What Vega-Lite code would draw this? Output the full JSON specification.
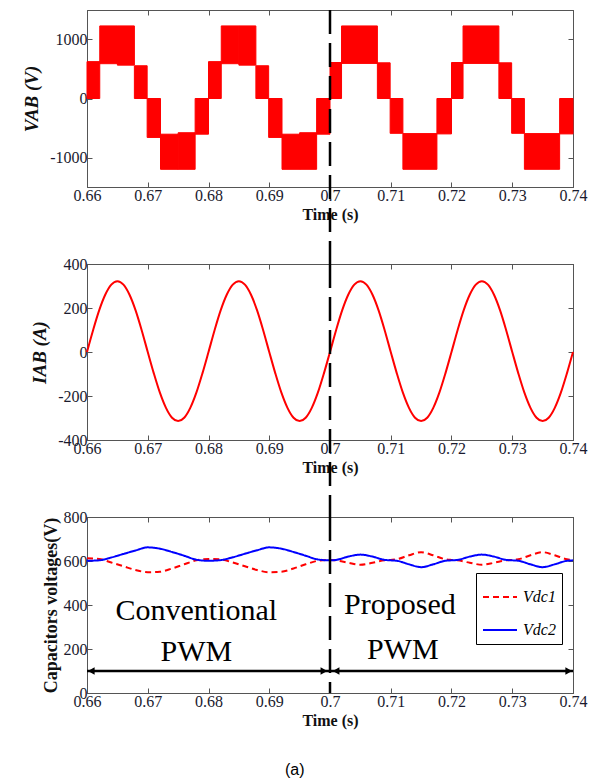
{
  "$schema": "https://vega.github.io/schema/vega-lite/v6.json",
  "padding": {"left": 22, "top": 8, "right": 5, "bottom": 2},
  "bounds": "flush",
  "spacing": 77,
  "config": {
    "view": {"stroke": "#555", "strokeWidth": 1},
    "axis": {"grid": false, "domainColor": "#555", "tickColor": "#555", "tickSize": -5, "labelFont": "Liberation Serif", "labelFontSize": 16, "labelColor": "#1a1a2e", "titleFont": "Liberation Serif", "titleColor": "#111", "titleFontWeight": "bold"},
    "legend": {"strokeColor": "black", "fillColor": "white", "padding": 6, "symbolType": "stroke", "symbolSize": 1156, "symbolStrokeWidth": 2, "labelFont": "Liberation Serif", "labelFontStyle": "italic", "labelFontSize": 16, "rowPadding": 7, "labelOffset": 5}
  },
  "datasets": {
    "vab": [
      {"t0": 0.66, "t1": 0.6621, "lo": 0, "hi": 625},
      {"t0": 0.6621, "t1": 0.665, "lo": 590, "hi": 1230},
      {"t0": 0.665, "t1": 0.6678, "lo": 565, "hi": 1230},
      {"t0": 0.6678, "t1": 0.6699, "lo": 0, "hi": 555},
      {"t0": 0.6699, "t1": 0.6721, "lo": -660, "hi": 0},
      {"t0": 0.6721, "t1": 0.675, "lo": -1200, "hi": -605},
      {"t0": 0.675, "t1": 0.6778, "lo": -1200, "hi": -580},
      {"t0": 0.6778, "t1": 0.68, "lo": -605, "hi": 0},
      {"t0": 0.68, "t1": 0.6821, "lo": 0, "hi": 625},
      {"t0": 0.6821, "t1": 0.685, "lo": 590, "hi": 1230},
      {"t0": 0.685, "t1": 0.6878, "lo": 565, "hi": 1230},
      {"t0": 0.6878, "t1": 0.6899, "lo": 0, "hi": 555},
      {"t0": 0.6899, "t1": 0.6921, "lo": -660, "hi": 0},
      {"t0": 0.6921, "t1": 0.695, "lo": -1200, "hi": -605},
      {"t0": 0.695, "t1": 0.6978, "lo": -1200, "hi": -580},
      {"t0": 0.6978, "t1": 0.7, "lo": -605, "hi": 0},
      {"t0": 0.7, "t1": 0.7019, "lo": 0, "hi": 610},
      {"t0": 0.7019, "t1": 0.7078, "lo": 595, "hi": 1230},
      {"t0": 0.7078, "t1": 0.7099, "lo": 0, "hi": 605},
      {"t0": 0.7099, "t1": 0.712, "lo": -590, "hi": 0},
      {"t0": 0.712, "t1": 0.7176, "lo": -1200, "hi": -595},
      {"t0": 0.7176, "t1": 0.72, "lo": -600, "hi": 0},
      {"t0": 0.72, "t1": 0.7219, "lo": 0, "hi": 610},
      {"t0": 0.7219, "t1": 0.7278, "lo": 595, "hi": 1230},
      {"t0": 0.7278, "t1": 0.7299, "lo": 0, "hi": 605},
      {"t0": 0.7299, "t1": 0.732, "lo": -590, "hi": 0},
      {"t0": 0.732, "t1": 0.7378, "lo": -1200, "hi": -595},
      {"t0": 0.7378, "t1": 0.74, "lo": -600, "hi": 0}
    ],
    "iab": [
      {"t": 0.66, "i": 0}, {"t": 0.661, "i": 99}, {"t": 0.662, "i": 189}, {"t": 0.663, "i": 260}, {"t": 0.664, "i": 306},
      {"t": 0.665, "i": 322}, {"t": 0.666, "i": 306}, {"t": 0.667, "i": 260}, {"t": 0.668, "i": 189}, {"t": 0.669, "i": 99},
      {"t": 0.67, "i": 0}, {"t": 0.671, "i": -97}, {"t": 0.672, "i": -185}, {"t": 0.673, "i": -254}, {"t": 0.674, "i": -299},
      {"t": 0.675, "i": -314}, {"t": 0.676, "i": -299}, {"t": 0.677, "i": -254}, {"t": 0.678, "i": -185}, {"t": 0.679, "i": -97},
      {"t": 0.68, "i": 0}, {"t": 0.681, "i": 99}, {"t": 0.682, "i": 189}, {"t": 0.683, "i": 260}, {"t": 0.684, "i": 306},
      {"t": 0.685, "i": 322}, {"t": 0.686, "i": 306}, {"t": 0.687, "i": 260}, {"t": 0.688, "i": 189}, {"t": 0.689, "i": 99},
      {"t": 0.69, "i": 0}, {"t": 0.691, "i": -97}, {"t": 0.692, "i": -185}, {"t": 0.693, "i": -254}, {"t": 0.694, "i": -299},
      {"t": 0.695, "i": -314}, {"t": 0.696, "i": -299}, {"t": 0.697, "i": -254}, {"t": 0.698, "i": -185}, {"t": 0.699, "i": -97},
      {"t": 0.7, "i": 0}, {"t": 0.701, "i": 99}, {"t": 0.702, "i": 189}, {"t": 0.703, "i": 260}, {"t": 0.704, "i": 306},
      {"t": 0.705, "i": 322}, {"t": 0.706, "i": 306}, {"t": 0.707, "i": 260}, {"t": 0.708, "i": 189}, {"t": 0.709, "i": 99},
      {"t": 0.71, "i": 0}, {"t": 0.711, "i": -97}, {"t": 0.712, "i": -185}, {"t": 0.713, "i": -254}, {"t": 0.714, "i": -299},
      {"t": 0.715, "i": -314}, {"t": 0.716, "i": -299}, {"t": 0.717, "i": -254}, {"t": 0.718, "i": -185}, {"t": 0.719, "i": -97},
      {"t": 0.72, "i": 0}, {"t": 0.721, "i": 99}, {"t": 0.722, "i": 189}, {"t": 0.723, "i": 260}, {"t": 0.724, "i": 306},
      {"t": 0.725, "i": 322}, {"t": 0.726, "i": 306}, {"t": 0.727, "i": 260}, {"t": 0.728, "i": 189}, {"t": 0.729, "i": 99},
      {"t": 0.73, "i": 0}, {"t": 0.731, "i": -97}, {"t": 0.732, "i": -185}, {"t": 0.733, "i": -254}, {"t": 0.734, "i": -299},
      {"t": 0.735, "i": -314}, {"t": 0.736, "i": -299}, {"t": 0.737, "i": -254}, {"t": 0.738, "i": -185}, {"t": 0.739, "i": -97},
      {"t": 0.74, "i": 0}
    ],
    "vdc": [
      {"t": 0.66, "v": 612, "s": "Vdc1"}, {"t": 0.662, "v": 609, "s": "Vdc1"}, {"t": 0.664, "v": 593, "s": "Vdc1"}, {"t": 0.666, "v": 576, "s": "Vdc1"},
      {"t": 0.668, "v": 559, "s": "Vdc1"}, {"t": 0.67, "v": 549, "s": "Vdc1"}, {"t": 0.672, "v": 551, "s": "Vdc1"}, {"t": 0.674, "v": 566, "s": "Vdc1"},
      {"t": 0.676, "v": 585, "s": "Vdc1"}, {"t": 0.678, "v": 603, "s": "Vdc1"}, {"t": 0.68, "v": 609, "s": "Vdc1"}, {"t": 0.682, "v": 607, "s": "Vdc1"},
      {"t": 0.684, "v": 593, "s": "Vdc1"}, {"t": 0.686, "v": 576, "s": "Vdc1"}, {"t": 0.688, "v": 559, "s": "Vdc1"}, {"t": 0.69, "v": 549, "s": "Vdc1"},
      {"t": 0.692, "v": 551, "s": "Vdc1"}, {"t": 0.694, "v": 566, "s": "Vdc1"}, {"t": 0.696, "v": 585, "s": "Vdc1"}, {"t": 0.698, "v": 601, "s": "Vdc1"},
      {"t": 0.7, "v": 605, "s": "Vdc1"}, {"t": 0.701, "v": 603, "s": "Vdc1"}, {"t": 0.703, "v": 592, "s": "Vdc1"}, {"t": 0.705, "v": 583, "s": "Vdc1"},
      {"t": 0.707, "v": 592, "s": "Vdc1"}, {"t": 0.709, "v": 603, "s": "Vdc1"}, {"t": 0.71, "v": 605, "s": "Vdc1"}, {"t": 0.711, "v": 608, "s": "Vdc1"},
      {"t": 0.713, "v": 626, "s": "Vdc1"}, {"t": 0.715, "v": 640, "s": "Vdc1"}, {"t": 0.717, "v": 626, "s": "Vdc1"}, {"t": 0.719, "v": 608, "s": "Vdc1"},
      {"t": 0.72, "v": 605, "s": "Vdc1"}, {"t": 0.721, "v": 603, "s": "Vdc1"}, {"t": 0.723, "v": 592, "s": "Vdc1"}, {"t": 0.725, "v": 583, "s": "Vdc1"},
      {"t": 0.727, "v": 592, "s": "Vdc1"}, {"t": 0.729, "v": 603, "s": "Vdc1"}, {"t": 0.73, "v": 605, "s": "Vdc1"}, {"t": 0.731, "v": 608, "s": "Vdc1"},
      {"t": 0.733, "v": 626, "s": "Vdc1"}, {"t": 0.735, "v": 640, "s": "Vdc1"}, {"t": 0.737, "v": 626, "s": "Vdc1"}, {"t": 0.739, "v": 608, "s": "Vdc1"},
      {"t": 0.74, "v": 605, "s": "Vdc1"},
      {"t": 0.66, "v": 601, "s": "Vdc2"}, {"t": 0.662, "v": 603, "s": "Vdc2"}, {"t": 0.664, "v": 616, "s": "Vdc2"}, {"t": 0.666, "v": 632, "s": "Vdc2"},
      {"t": 0.668, "v": 648, "s": "Vdc2"}, {"t": 0.67, "v": 662, "s": "Vdc2"}, {"t": 0.672, "v": 656, "s": "Vdc2"}, {"t": 0.674, "v": 641, "s": "Vdc2"},
      {"t": 0.676, "v": 624, "s": "Vdc2"}, {"t": 0.678, "v": 606, "s": "Vdc2"}, {"t": 0.68, "v": 601, "s": "Vdc2"}, {"t": 0.682, "v": 604, "s": "Vdc2"},
      {"t": 0.684, "v": 617, "s": "Vdc2"}, {"t": 0.686, "v": 633, "s": "Vdc2"}, {"t": 0.688, "v": 649, "s": "Vdc2"}, {"t": 0.69, "v": 662, "s": "Vdc2"},
      {"t": 0.692, "v": 656, "s": "Vdc2"}, {"t": 0.694, "v": 641, "s": "Vdc2"}, {"t": 0.696, "v": 624, "s": "Vdc2"}, {"t": 0.698, "v": 607, "s": "Vdc2"},
      {"t": 0.7, "v": 603, "s": "Vdc2"}, {"t": 0.701, "v": 605, "s": "Vdc2"}, {"t": 0.703, "v": 620, "s": "Vdc2"}, {"t": 0.705, "v": 629, "s": "Vdc2"},
      {"t": 0.707, "v": 620, "s": "Vdc2"}, {"t": 0.709, "v": 605, "s": "Vdc2"}, {"t": 0.71, "v": 603, "s": "Vdc2"}, {"t": 0.711, "v": 601, "s": "Vdc2"},
      {"t": 0.713, "v": 585, "s": "Vdc2"}, {"t": 0.715, "v": 572, "s": "Vdc2"}, {"t": 0.717, "v": 585, "s": "Vdc2"}, {"t": 0.719, "v": 601, "s": "Vdc2"},
      {"t": 0.72, "v": 603, "s": "Vdc2"}, {"t": 0.721, "v": 605, "s": "Vdc2"}, {"t": 0.723, "v": 620, "s": "Vdc2"}, {"t": 0.725, "v": 629, "s": "Vdc2"},
      {"t": 0.727, "v": 620, "s": "Vdc2"}, {"t": 0.729, "v": 605, "s": "Vdc2"}, {"t": 0.73, "v": 603, "s": "Vdc2"}, {"t": 0.731, "v": 601, "s": "Vdc2"},
      {"t": 0.733, "v": 585, "s": "Vdc2"}, {"t": 0.735, "v": 572, "s": "Vdc2"}, {"t": 0.737, "v": 585, "s": "Vdc2"}, {"t": 0.739, "v": 601, "s": "Vdc2"},
      {"t": 0.74, "v": 603, "s": "Vdc2"}
    ]
  },
  "vconcat": [
    {
      "width": 486, "height": 177,
      "layer": [
        {
          "data": {"name": "vab"},
          "mark": {"type": "rect", "color": "#ff0000", "stroke": "#ff0000", "strokeWidth": 1},
          "encoding": {
            "x": {"field": "t0", "type": "quantitative", "scale": {"domain": [0.66, 0.74], "nice": false, "zero": false},
                  "axis": {"values": [0.66, 0.67, 0.68, 0.69, 0.7, 0.71, 0.72, 0.73, 0.74], "labelExpr": "'' + datum.value", "labelFlush": false, "title": "Time (s)", "titleFontSize": 16, "labelPadding": 5, "titlePadding": 3}},
            "x2": {"field": "t1"},
            "y": {"field": "lo", "type": "quantitative", "scale": {"domain": [-1500, 1500], "nice": false},
                  "axis": {"values": [-1000, 0, 1000], "labelExpr": "'' + datum.value", "title": "VAB (V)", "titleFontSize": 19, "titleFontStyle": "italic", "labelPadding": 5, "titlePadding": 8}},
            "y2": {"field": "hi"}
          }
        },
        {
          "data": {"values": [{"t": 0.7, "a": 1500, "b": -2805}]},
          "mark": {"type": "rule", "strokeDash": [24, 9], "strokeWidth": 2.5, "color": "black"},
          "encoding": {"x": {"field": "t", "type": "quantitative", "axis": null}, "y": {"field": "a", "type": "quantitative", "axis": null}, "y2": {"field": "b"}}
        },
        {
          "data": {"name": "vab"},
          "mark": {"type": "point", "opacity": 0},
          "encoding": {
            "x": {"field": "t0", "type": "quantitative", "axis": {"orient": "top", "labels": false, "title": null, "values": [0.66, 0.67, 0.68, 0.69, 0.7, 0.71, 0.72, 0.73, 0.74]}},
            "y": {"field": "lo", "type": "quantitative", "axis": {"orient": "right", "labels": false, "title": null, "values": [-1000, 0, 1000]}}
          }
        }
      ],
      "resolve": {"axis": {"x": "independent", "y": "independent"}}
    },
    {
      "width": 486, "height": 176,
      "layer": [
        {
          "data": {"name": "iab"},
          "mark": {"type": "line", "color": "#ff0000", "strokeWidth": 2, "interpolate": "monotone"},
          "encoding": {
            "x": {"field": "t", "type": "quantitative", "scale": {"domain": [0.66, 0.74], "nice": false, "zero": false},
                  "axis": {"values": [0.66, 0.67, 0.68, 0.69, 0.7, 0.71, 0.72, 0.73, 0.74], "labelExpr": "'' + datum.value", "labelFlush": false, "title": "Time (s)", "titleFontSize": 16, "labelPadding": 5, "titlePadding": 3}},
            "y": {"field": "i", "type": "quantitative", "scale": {"domain": [-400, 400], "nice": false},
                  "axis": {"values": [-400, -200, 0, 200, 400], "labelExpr": "'' + datum.value", "title": "IAB (A)", "titleFontSize": 19, "titleFontStyle": "italic", "labelPadding": 5, "titlePadding": 8}}
          }
        },
        {
          "data": {"values": [{"t": 0.7, "a": 400, "b": -750}]},
          "mark": {"type": "rule", "strokeDash": [24, 9], "strokeWidth": 2.5, "color": "black"},
          "encoding": {"x": {"field": "t", "type": "quantitative", "axis": null}, "y": {"field": "a", "type": "quantitative", "axis": null}, "y2": {"field": "b"}}
        },
        {
          "data": {"name": "iab"},
          "mark": {"type": "point", "opacity": 0},
          "encoding": {
            "x": {"field": "t", "type": "quantitative", "axis": {"orient": "top", "labels": false, "title": null, "values": [0.66, 0.67, 0.68, 0.69, 0.7, 0.71, 0.72, 0.73, 0.74]}},
            "y": {"field": "i", "type": "quantitative", "axis": {"orient": "right", "labels": false, "title": null, "values": [-400, -200, 0, 200, 400]}}
          }
        }
      ],
      "resolve": {"axis": {"x": "independent", "y": "independent"}}
    },
    {
      "width": 486, "height": 176,
      "layer": [
        {
          "data": {"name": "vdc"},
          "mark": {"type": "line", "strokeWidth": 2, "interpolate": "monotone"},
          "encoding": {
            "x": {"field": "t", "type": "quantitative", "scale": {"domain": [0.66, 0.74], "nice": false, "zero": false},
                  "axis": {"values": [0.66, 0.67, 0.68, 0.69, 0.7, 0.71, 0.72, 0.73, 0.74], "labelExpr": "'' + datum.value", "labelFlush": false, "title": "Time (s)", "titleFontSize": 16, "labelPadding": 5, "titlePadding": 3}},
            "y": {"field": "v", "type": "quantitative", "scale": {"domain": [0, 800], "nice": false},
                  "axis": {"values": [0, 200, 400, 600, 800], "labelExpr": "'' + datum.value", "title": "Capacitors voltages(V)", "titleFontSize": 18, "labelPadding": 5, "titlePadding": 3}},
            "color": {"field": "s", "type": "nominal", "scale": {"domain": ["Vdc1", "Vdc2"], "range": ["#ff0000", "#0000ff"]},
                      "legend": {"title": null, "orient": "none", "legendX": 389, "legendY": 563}},
            "strokeDash": {"field": "s", "type": "nominal", "scale": {"domain": ["Vdc1", "Vdc2"], "range": [[6, 4], [1, 0]]},
                           "legend": {"title": null, "orient": "none", "legendX": 389, "legendY": 563}}
          }
        },
        {
          "data": {"values": [{"t": 0.7, "a": 800, "b": 0}]},
          "mark": {"type": "rule", "strokeDash": [24, 9], "strokeWidth": 2.5, "color": "black"},
          "encoding": {"x": {"field": "t", "type": "quantitative", "axis": null}, "y": {"field": "a", "type": "quantitative", "axis": null}, "y2": {"field": "b"}}
        },
        {
          "data": {"values": [{"t": 0.66, "t2": 0.74, "v": 100}]},
          "mark": {"type": "rule", "strokeWidth": 2.5, "color": "black"},
          "encoding": {"x": {"field": "t", "type": "quantitative", "axis": null}, "x2": {"field": "t2"}, "y": {"field": "v", "type": "quantitative", "axis": null}}
        },
        {
          "data": {"values": [{"t": 0.6607, "v": 100, "d": "L"}, {"t": 0.699, "v": 100, "d": "R"}, {"t": 0.701, "v": 100, "d": "L"}, {"t": 0.7393, "v": 100, "d": "R"}]},
          "mark": {"type": "point", "filled": true, "opacity": 1, "color": "black", "size": 60},
          "encoding": {
            "x": {"field": "t", "type": "quantitative", "axis": null},
            "y": {"field": "v", "type": "quantitative", "axis": null},
            "shape": {"field": "d", "type": "nominal", "scale": {"domain": ["L", "R"], "range": ["triangle-left", "triangle-right"]}, "legend": null}
          }
        },
        {
          "data": {"values": [{"t": 0.678, "v": 373, "label": "Conventional"}, {"t": 0.678, "v": 186, "label": "PWM"}, {"t": 0.7115, "v": 400, "label": "Proposed"}, {"t": 0.712, "v": 195, "label": "PWM"}]},
          "mark": {"type": "text", "font": "Liberation Serif", "fontSize": 30, "color": "black", "align": "center", "baseline": "middle"},
          "encoding": {"x": {"field": "t", "type": "quantitative", "axis": null}, "y": {"field": "v", "type": "quantitative", "axis": null}, "text": {"field": "label"}}
        },
        {
          "data": {"values": [{"t": 0.6942, "v": -352, "label": "(a)"}]},
          "mark": {"type": "text", "font": "Liberation Sans", "fontSize": 16, "color": "black", "align": "center", "baseline": "middle"},
          "encoding": {"x": {"field": "t", "type": "quantitative", "axis": null}, "y": {"field": "v", "type": "quantitative", "axis": null}, "text": {"field": "label"}}
        },
        {
          "data": {"name": "vdc"},
          "mark": {"type": "point", "opacity": 0},
          "encoding": {
            "x": {"field": "t", "type": "quantitative", "axis": {"orient": "top", "labels": false, "title": null, "values": [0.66, 0.67, 0.68, 0.69, 0.7, 0.71, 0.72, 0.73, 0.74]}},
            "y": {"field": "v", "type": "quantitative", "axis": {"orient": "right", "labels": false, "title": null, "values": [0, 200, 400, 600, 800]}}
          }
        }
      ],
      "resolve": {"axis": {"x": "independent", "y": "independent"}}
    }
  ]
}
